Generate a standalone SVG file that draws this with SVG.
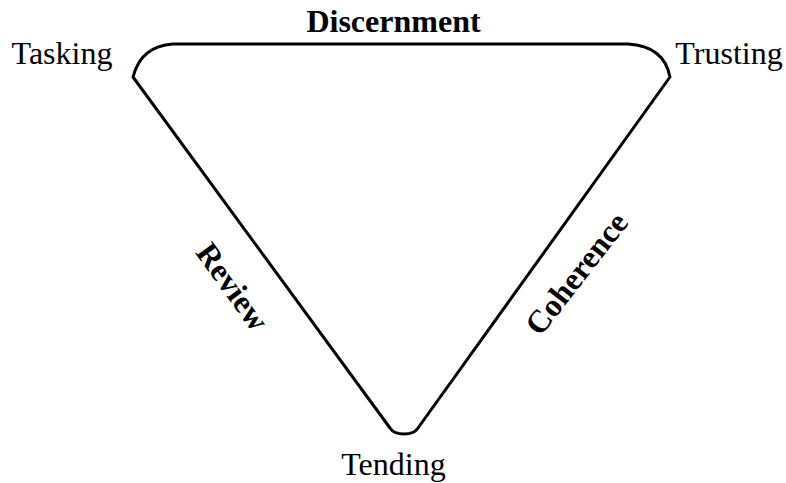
<svg xmlns="http://www.w3.org/2000/svg" width="786" height="483" viewBox="0 0 786 483">
<style>
.lbl{font-family:"Liberation Serif","Times New Roman",serif;font-size:32px;fill:#000}
.b{font-weight:bold}
.edge{fill:none;stroke:#000;stroke-width:3;stroke-linejoin:round;stroke-linecap:round}
</style>
<rect width="786" height="483" fill="#fff"/>
<g id="connectors">
<path class="edge" d="M173 44 L628 44 Q664 46 670 77 L418 428 C413 436 395 436 390 428 L133 77 Q141 46 173 44 Z"/>
</g>
<g id="discernment"><text class="lbl b" x="393.5" y="32" text-anchor="middle">Discernment</text></g>
<g id="tasking"><text class="lbl" x="62" y="64" text-anchor="middle">Tasking</text></g>
<g id="trusting"><text class="lbl" x="729" y="64" text-anchor="middle">Trusting</text></g>
<g id="tending"><text class="lbl" x="393.5" y="475" text-anchor="middle">Tending</text></g>
<g id="review"><text class="lbl b" text-anchor="middle" transform="translate(232,287) rotate(54)" y="10">Review</text></g>
<g id="coherence"><text class="lbl b" text-anchor="middle" transform="translate(577,274) rotate(-52)" y="10">Coherence</text></g>
</svg>
